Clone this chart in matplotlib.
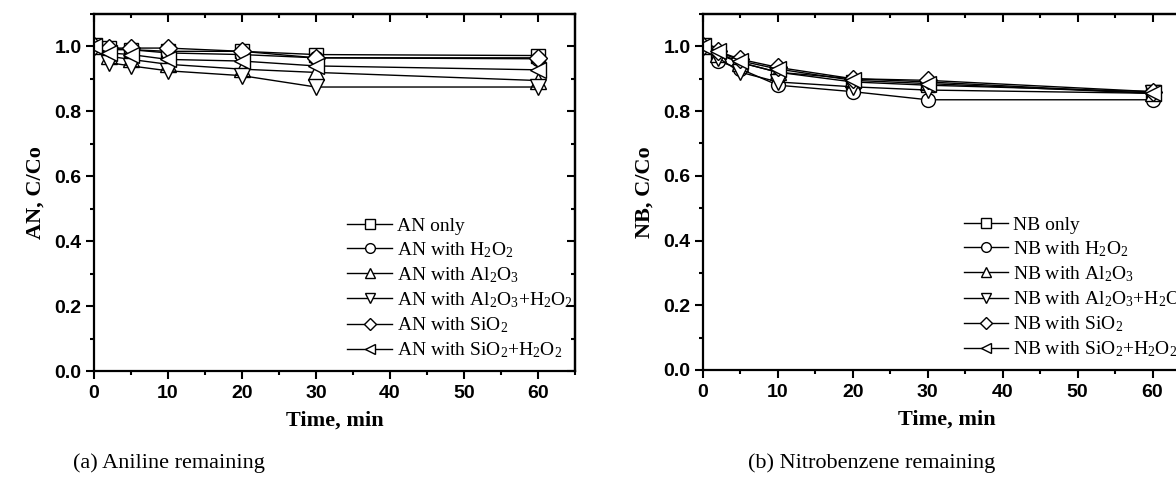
import matplotlib
matplotlib.use("Agg")
import matplotlib.pyplot as plt
from matplotlib.ticker import MultipleLocator

# data
time = [0, 2, 5, 10, 20, 30, 60]

an_labels = ["AN only", r"AN with H$_2$O$_2$", r"AN with Al$_2$O$_3$",
             r"AN with Al$_2$O$_3$+H$_2$O$_2$", r"AN with SiO$_2$",
             r"AN with SiO$_2$+H$_2$O$_2$"]
an_only = [1.0, 0.995, 0.99, 0.985, 0.985, 0.975, 0.972]
an_h2o2 = [1.0, 0.99, 0.99, 0.98, 0.975, 0.965, 0.962]
an_al2o3 = [1.0, 0.97, 0.96, 0.945, 0.93, 0.92, 0.895]
an_al2o3_h2o2 = [1.0, 0.95, 0.94, 0.925, 0.91, 0.875, 0.875]
an_sio2 = [1.0, 0.995, 0.995, 0.995, 0.985, 0.965, 0.965]
an_sio2_h2o2 = [1.0, 0.98, 0.975, 0.96, 0.955, 0.94, 0.928]

nb_labels = ["NB only", r"NB with H$_2$O$_2$", r"NB with Al$_2$O$_3$",
             r"NB with Al$_2$O$_3$+H$_2$O$_2$", r"NB with SiO$_2$",
             r"NB with SiO$_2$+H$_2$O$_2$"]
nb_only = [1.0, 0.98, 0.95, 0.92, 0.89, 0.88, 0.86]
nb_h2o2 = [1.0, 0.955, 0.93, 0.88, 0.86, 0.835, 0.835]
nb_al2o3 = [1.0, 0.975, 0.95, 0.92, 0.9, 0.89, 0.855]
nb_al2o3_h2o2 = [1.0, 0.965, 0.92, 0.89, 0.875, 0.865, 0.855]
nb_sio2 = [1.0, 0.985, 0.96, 0.935, 0.9, 0.895, 0.86]
nb_sio2_h2o2 = [1.0, 0.985, 0.955, 0.93, 0.895, 0.885, 0.855]

markers = ["s", "o", "^", "v", "D", "<"]
msizes = [10, 10, 11, 11, 9, 11]

serif = ["Liberation Serif", "DejaVu Serif"]
sans = ["Liberation Sans", "DejaVu Sans"]
plt.rcParams["mathtext.fontset"] = "custom"
plt.rcParams["mathtext.rm"] = "Liberation Serif"
plt.rcParams["mathtext.it"] = "Liberation Serif:italic"

fig = plt.figure(figsize=(11.76, 4.82), dpi=100)
W, H = 1176, 482
ax1 = fig.add_axes([94 / W, 1 - 371 / H, 481 / W, 357 / H])
ax2 = fig.add_axes([703 / W, 1 - 370 / H, 487 / W, 356 / H])


def draw(ax, series, labels, ylabel, leg_x):
    for y, lab, m, ms in zip(series, labels, markers, msizes):
        ax.plot(time, y, color="black", lw=1, marker=m, ms=ms,
                mfc="white", mec="black", mew=1, label=lab)
    ax.set_xlim(0, 65)
    ax.set_ylim(0, 1.1)
    ax.xaxis.set_minor_locator(MultipleLocator(5))
    ax.yaxis.set_minor_locator(MultipleLocator(0.1))
    ax.set_xticks([0, 10, 20, 30, 40, 50, 60])
    ax.set_yticks([0.0, 0.2, 0.4, 0.6, 0.8, 1.0])
    ax.set_yticklabels(["%.1f" % v for v in ax.get_yticks()])
    for s in ax.spines.values():
        s.set_linewidth(1.6)
    ax.tick_params(which="both", direction="out", width=1.5, labelsize=14)
    ax.tick_params(which="major", length=6)
    ax.tick_params(which="minor", length=3)
    ax.tick_params(axis="x", pad=4)
    ax.tick_params(axis="y", pad=3)
    for lab in ax.get_xticklabels() + ax.get_yticklabels():
        lab.set_family(sans)
        lab.set_fontweight("bold")
    # top/right inward ticks
    sx = ax.secondary_xaxis("top")
    sx.set_xticks([0, 10, 20, 30, 40, 50, 60])
    sx.xaxis.set_minor_locator(MultipleLocator(5))
    sx.tick_params(which="both", direction="in", width=1.5, labeltop=False)
    sx.tick_params(which="major", length=6)
    sx.tick_params(which="minor", length=3)
    sy = ax.secondary_yaxis("right")
    sy.set_yticks([0.0, 0.2, 0.4, 0.6, 0.8, 1.0])
    sy.yaxis.set_minor_locator(MultipleLocator(0.1))
    sy.tick_params(which="both", direction="in", width=1.5, labelright=False)
    sy.tick_params(which="major", length=6)
    sy.tick_params(which="minor", length=3)
    sx.spines["top"].set_linewidth(1.6)
    sy.spines["right"].set_linewidth(1.6)
    ax.set_xlabel("Time, min", family=serif, fontweight="bold",
                  fontsize=16, labelpad=6)
    ax.set_ylabel(ylabel, family=serif, fontweight="bold",
                  fontsize=16, labelpad=6)
    ax.legend(loc="lower left", bbox_to_anchor=(leg_x, 0.03), frameon=False,
              prop={"family": serif, "size": 14}, handlelength=2.3,
              handletextpad=0.25, labelspacing=0.28, markerscale=0.7,
              borderpad=0, borderaxespad=0)


draw(ax1, [an_only, an_h2o2, an_al2o3, an_al2o3_h2o2, an_sio2, an_sio2_h2o2],
     an_labels, "AN, C/Co", 0.527)
draw(ax2, [nb_only, nb_h2o2, nb_al2o3, nb_al2o3_h2o2, nb_sio2, nb_sio2_h2o2],
     nb_labels, "NB, C/Co", 0.535)

fig.text(73 / W, 1 - 463 / H, "(a) Aniline remaining", family=serif,
         fontsize=16, va="center")
fig.text(748 / W, 1 - 463 / H, "(b) Nitrobenzene remaining", family=serif,
         fontsize=16, va="center")

fig.savefig("out.png", dpi=100)
